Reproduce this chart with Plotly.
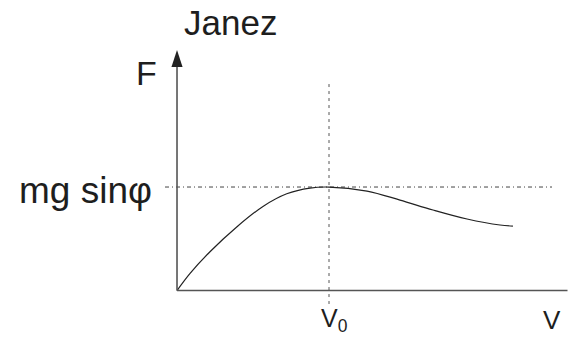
import plotly.graph_objects as go

# Data (v in units of V0, F in units of mg sin(phi))
v_values = [0.0, 0.086, 0.217, 0.393, 0.568, 0.722, 0.875, 1.0, 1.25, 1.467, 1.684, 1.908, 2.125, 2.21]
F_values = [0.0, 0.166, 0.375, 0.614, 0.815, 0.935, 0.99, 1.0, 0.961, 0.874, 0.778, 0.691, 0.633, 0.623]
v0 = 1.0
F_level = 1.0
v_axis_end = 2.599
F_axis_end = 2.324

title_text = "Janez"
y_label = "F"
level_label = "mg sinφ"
v0_label = "V<sub>0</sub>"
x_label = "V"

FONT = "Liberation Sans, Arial, sans-serif"
AX = "#555555"
TXT = "#1e1e1e"

fig = go.Figure()

# reference lines
fig.add_trace(go.Scatter(x=[-0.079, 2.467], y=[F_level, F_level], mode="lines",
                         line=dict(color="#444", width=1, dash="4px,3px,1px,3px"),
                         hoverinfo="skip", showlegend=False))
fig.add_trace(go.Scatter(x=[v0, v0], y=[1.995, -0.130], mode="lines",
                         line=dict(color="#555", width=1, dash="3px,4px"),
                         hoverinfo="skip", showlegend=False))
# curve
fig.add_trace(go.Scatter(x=v_values, y=F_values, mode="lines",
                         line=dict(color="#222", width=1.2, shape="spline", smoothing=1.0),
                         hoverinfo="skip", showlegend=False))

# axes
fig.add_trace(go.Scatter(x=[0, 0], y=[0, F_axis_end - 0.05], mode="lines",
                         line=dict(color=AX, width=1.6), hoverinfo="skip", showlegend=False))
fig.add_trace(go.Scatter(x=[0, v_axis_end - 0.03], y=[0, 0], mode="lines",
                         line=dict(color=AX, width=1.6), hoverinfo="skip", showlegend=False,
                         cliponaxis=False))
# arrowheads
fig.add_trace(go.Scatter(x=[0], y=[F_axis_end], mode="markers",
                         marker=dict(symbol="arrow", angle=0, size=18, color="#222",
                                     line=dict(width=0)),
                         hoverinfo="skip", showlegend=False, cliponaxis=False))
fig.add_trace(go.Scatter(x=[v_axis_end], y=[0], mode="markers",
                         marker=dict(symbol="arrow", angle=90, size=18, color="#222",
                                     line=dict(width=0)),
                         hoverinfo="skip", showlegend=False, cliponaxis=False))

# labels
fig.add_annotation(x=0.033, y=2.585, xref="x", yref="y", text=title_text, showarrow=False,
                   xanchor="left", yanchor="middle", font=dict(family=FONT, size=35, color=TXT))
fig.add_annotation(x=-0.118, y=2.101, xref="x", yref="y", text=y_label, showarrow=False,
                   xanchor="right", yanchor="middle", font=dict(family=FONT, size=34, color=TXT))
fig.add_annotation(x=-0.151, y=0.97, xref="x", yref="y", text=level_label, showarrow=False,
                   xanchor="right", yanchor="middle", font=dict(family=FONT, size=37, color=TXT))
fig.add_annotation(x=1.036, y=-0.285, xref="x", yref="y", text=v0_label, showarrow=False,
                   xanchor="center", yanchor="middle", font=dict(family=FONT, size=25, color=TXT))
fig.add_annotation(x=2.467, y=-0.285, xref="x", yref="y", text=x_label, showarrow=False,
                   xanchor="center", yanchor="middle", font=dict(family=FONT, size=26, color=TXT))

fig.update_layout(
    width=571, height=337,
    margin=dict(l=0, r=0, t=0, b=0),
    paper_bgcolor="white", plot_bgcolor="white",
    xaxis=dict(range=[-1.1645, 2.592], visible=False, fixedrange=True),
    yaxis=dict(range=[-0.449, 2.807], visible=False, fixedrange=True),
    showlegend=False,
    hovermode=False,
)

fig.write_html("out.html", config={"displayModeBar": False, "staticPlot": True},
               post_script="document.body.style.margin='0px';document.body.style.overflow='hidden';")
